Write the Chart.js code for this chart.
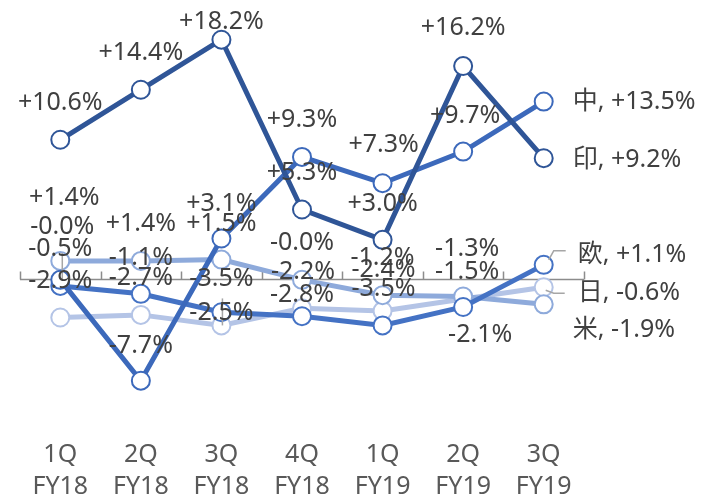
<!DOCTYPE html>
<html>
<head>
<meta charset="utf-8">
<script src="https://cdn.jsdelivr.net/npm/chart.js@4/dist/chart.umd.min.js"></script>
<style>
  html, body { margin: 0; padding: 0; background: #ffffff; }
  canvas { display: block; }
</style>
</head>
<body>
<canvas id="growthChart" width="703" height="496"></canvas>
<script>
// quarters on the x axis
let quarters = [["1Q", "FY18"], ["2Q", "FY18"], ["3Q", "FY18"], ["4Q", "FY18"], ["1Q", "FY19"], ["2Q", "FY19"], ["3Q", "FY19"]];

// growth rate per region (%)
let seriesNames = ["印", "中", "欧", "米", "日"];
let india = [10.6, 14.4, 18.2, 5.3, 3.0, 16.2, 9.2];
let china = [-0.04, -7.7, 3.1, 9.3, 7.3, 9.7, 13.5];
let europe = [-0.5, -1.1, -2.5, -2.8, -3.5, -2.1, 1.1];
let usa = [1.4, 1.4, 1.5, -0.04, -1.2, -1.3, -1.9];
let japan = [-2.9, -2.7, -3.5, -2.2, -2.4, -1.5, -0.6];

let yMin = -10;
let yMax = 20;

let colors = ["#2f5597", "#3c69bb", "#4472c4", "#8eaadb", "#b4c4e6"];
let seriesData = [india, china, europe, usa, japan];

// label placement: [dx, dy] from the point, last point is the end label
let labelOffsets = [
  [[0, -37], [0, -37], [0, -18], [0, -37], [0, -36], [0, -38], [29, 2]],
  [[2, -53], [0, -35], [0, -35], [0, -37], [1, -38], [2, -36], [29, 0]],
  [[0, -37], [0, -36], [0, 1], [0, -21], [1, -37], [17, 28], [34, -10]],
  [[4, -63], [0, -37], [0, -36], [0, -37], [0, -37], [4, -48], [29, 26]],
  [[0, -37], [0, -37], [0, -47], [1, -36], [1, -41], [4, -27], [34, 6]]
];

// grey leader lines, as point-relative polylines
let leaders = [
  { series: 2, index: 0, pts: [[2, -33], [2, -6]] },
  { series: 4, index: 2, pts: [[1, -27], [1, 0]] },
  { series: 2, index: 6, pts: [[5, -5], [10, -14], [22, -14]] },
  { series: 4, index: 6, pts: [[2, 3], [10, 6], [21, 6]] }
];

let fontFamily = "'Noto Sans', 'Noto Sans CJK JP', sans-serif";

function formatPct(v) {
  let s = v.toFixed(1);
  if (v > 0) s = "+" + s;
  return s + "%";
}

// zero axis line with small tick marks between quarters
let zeroAxisPlugin = {
  id: "zeroAxis",
  beforeDatasetsDraw: function (chart) {
    let ctx = chart.ctx;
    let area = chart.chartArea;
    let y0 = Math.round(chart.scales.y.getPixelForValue(0)) + 0.5;
    let step = (area.right - area.left) / quarters.length;
    ctx.save();
    ctx.strokeStyle = "#8c8c8c";
    ctx.lineWidth = 1.5;
    ctx.beginPath();
    ctx.moveTo(area.left, y0);
    ctx.lineTo(area.right, y0);
    for (let i = 0; i <= quarters.length; i++) {
      let x = Math.round(area.left + i * step) + 0.5;
      ctx.moveTo(x, y0);
      ctx.lineTo(x, y0 - 8);
    }
    ctx.stroke();
    ctx.restore();
  }
};

// value labels and end labels
let valueLabelPlugin = {
  id: "valueLabels",
  afterDatasetsDraw: function (chart) {
    let ctx = chart.ctx;
    ctx.save();

    ctx.strokeStyle = "#a6a6a6";
    ctx.lineWidth = 1.5;
    leaders.forEach(function (ld) {
      let pt = chart.getDatasetMeta(ld.series).data[ld.index];
      ctx.beginPath();
      ld.pts.forEach(function (p, k) {
        if (k === 0) ctx.moveTo(pt.x + p[0], pt.y + p[1]);
        else ctx.lineTo(pt.x + p[0], pt.y + p[1]);
      });
      ctx.stroke();
    });

    ctx.font = "25px " + fontFamily;
    ctx.fillStyle = "#404040";
    ctx.textBaseline = "middle";
    for (let s = 0; s < seriesData.length; s++) {
      let meta = chart.getDatasetMeta(s);
      for (let i = 0; i < seriesData[s].length; i++) {
        let pt = meta.data[i];
        let off = labelOffsets[s][i];
        let last = i === seriesData[s].length - 1;
        if (last) {
          ctx.textAlign = "left";
          ctx.fillText(seriesNames[s] + ", " + formatPct(seriesData[s][i]), pt.x + off[0], pt.y + off[1]);
        } else {
          ctx.textAlign = "center";
          ctx.fillText(formatPct(seriesData[s][i]), pt.x + off[0], pt.y + off[1]);
        }
      }
    }
    ctx.restore();
  }
};

let datasets = [];
for (let s = 0; s < seriesData.length; s++) {
  datasets.push({
    label: seriesNames[s],
    data: seriesData[s],
    borderColor: colors[s],
    borderWidth: 5,
    pointRadius: 9,
    pointBorderWidth: 2,
    pointBackgroundColor: "#ffffff",
    pointBorderColor: colors[s],
    tension: 0,
    fill: false
  });
}

let ctx = document.getElementById("growthChart").getContext("2d");
window.myChart = new Chart(ctx, {
  type: "line",
  data: {
    labels: quarters,
    datasets: datasets
  },
  options: {
    responsive: false,
    animation: false,
    devicePixelRatio: 1,
    layout: {
      padding: { left: 20, right: 119, top: 16, bottom: 0 }
    },
    plugins: {
      legend: { display: false },
      tooltip: { enabled: false }
    },
    scales: {
      x: {
        type: "category",
        offset: true,
        grid: { display: false, drawTicks: false },
        border: { display: false },
        ticks: {
          color: "#595959",
          padding: 28,
          maxRotation: 0,
          autoSkip: false,
          font: { family: fontFamily, size: 25, lineHeight: 1.28 }
        },
        afterFit: function (scale) {
          scale.height = 85;
        }
      },
      y: {
        display: false,
        min: yMin,
        max: yMax
      }
    }
  },
  plugins: [zeroAxisPlugin, valueLabelPlugin]
});
</script>
</body>
</html>
